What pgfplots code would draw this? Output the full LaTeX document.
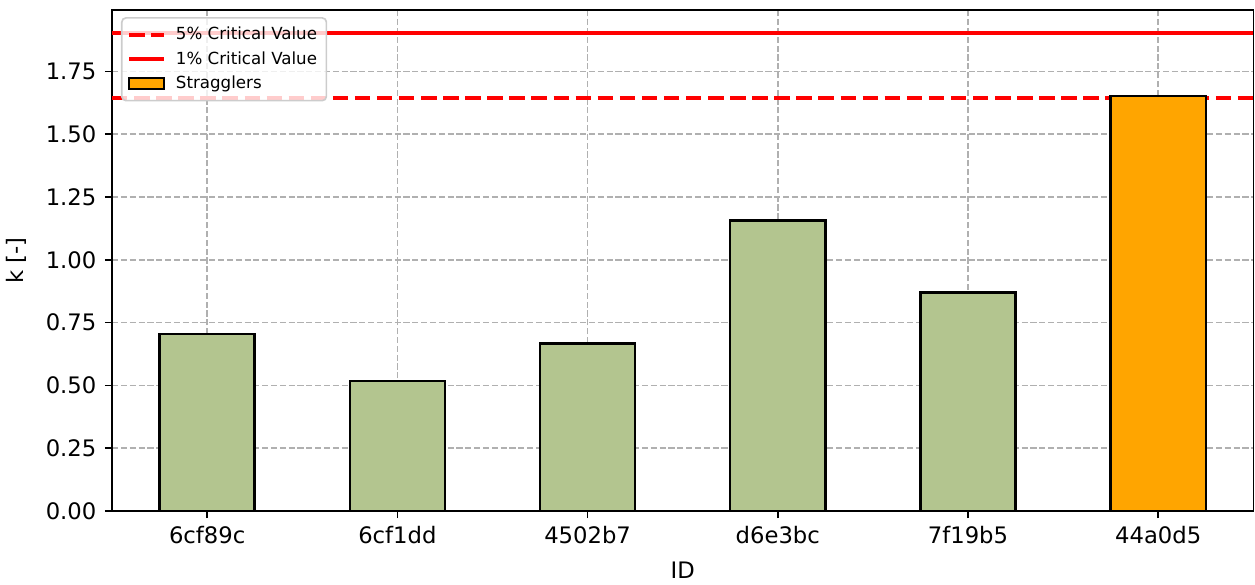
\documentclass[border=0pt]{standalone}
\usepackage{fontspec}
\setmainfont{DejaVu Sans}
\usepackage{pgfplots}
\pgfplotsset{compat=1.18}
\definecolor{bargreen}{HTML}{B3C58F}
\definecolor{orng}{HTML}{FFA500}
\definecolor{gridgray}{HTML}{B0B0B0}
\definecolor{legedge}{HTML}{CCCCCC}
\pgfplotsset{
  mylegline/.style={legend image code/.code={\draw[##1, sharp corners, draw opacity=1] (0pt,0pt) -- (16.7pt,0pt); \path (19.5pt,0pt);}},
  mylegbar/.style={legend image code/.code={\draw[##1, line width=0.9pt, sharp corners, fill opacity=1, draw opacity=1] (0pt,-2.8pt) rectangle (16.7pt,2.8pt); \path (19.5pt,0pt);}},
}
\begin{document}
\begin{tikzpicture}
\useasboundingbox (-53.8pt,-35.5pt) rectangle (548.8pt,245.3pt);
\begin{axis}[
  at={(0,0)}, anchor=south west,
  scale only axis, width=548pt, height=240.5pt,
  xmin=-0.5, xmax=5.5, ymin=0, ymax=1.995,
  xtick={0,1,2,3,4,5},
  xticklabels={6cf89c,6cf1dd,4502b7,d6e3bc,7f19b5,44a0d5},
  ytick={0,0.25,0.5,0.75,1,1.25,1.5,1.75},
  yticklabel style={/pgf/number format/fixed, /pgf/number format/fixed zerofill, /pgf/number format/precision=2, xshift=-0.5pt},
  xticklabel style={yshift=-0.5pt},
  /pgf/number format/assume math mode=true,
  tick label style={font=\fontsize{10.9}{13}\selectfont, black},
  label style={font=\fontsize{10.9}{13}\selectfont},
  xlabel={ID}, ylabel={k [-]},
  xlabel style={yshift=-1.5pt},
  ylabel style={yshift=2.3pt},
  tick align=outside, major tick length=3.5pt,
  tick style={black, line width=0.8pt},
  xtick pos=bottom, ytick pos=left,
  axis line style={black, line width=0.8pt},
  grid=major,
  major grid style={gridgray, line width=0.8pt, dash pattern=on 2.96pt off 1.28pt},
  legend cell align=left,
  legend style={at={(0,1)}, anchor=north west, xshift=4.3pt, yshift=-3.4pt,
    font=\fontsize{8}{9.8}\selectfont, draw=legedge, line width=0.8pt,
    rounded corners=2pt, fill=white, fill opacity=0.8, text opacity=1,
    row sep=0pt, inner sep=2.5pt},
]
\addplot[ybar, bar width=0.5, bar shift=0pt, fill=bargreen, draw=black, line width=1.2pt, forget plot]
  coordinates {(0,0.705) (1,0.518) (2,0.666) (3,1.156) (4,0.869)};
\addplot[red, line width=2pt, dash pattern=on 7.4pt off 3.2pt, mylegline]
  coordinates {(-0.5,1.643) (5.5,1.643)};
\addlegendentry{5\% Critical Value}
\addplot[red, line width=2pt, mylegline]
  coordinates {(-0.5,1.903) (5.5,1.903)};
\addlegendentry{1\% Critical Value}
\addplot[ybar, bar width=0.5, bar shift=0pt, fill=orng, draw=black, line width=1.2pt, mylegbar]
  coordinates {(5,1.652)};
\addlegendentry{Stragglers}
\end{axis}
\end{tikzpicture}
\end{document}
